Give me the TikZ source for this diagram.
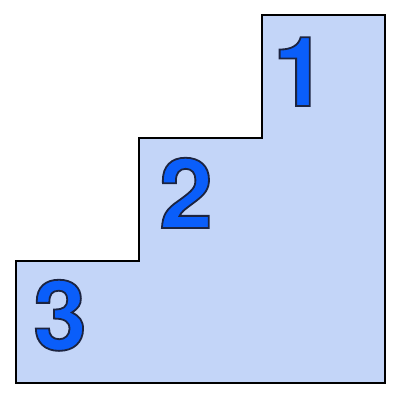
\documentclass[tikz,border=0pt]{standalone}
\usepackage{fontspec}
\setmainfont{TeX Gyre Heros}
\usetikzlibrary{positioning}
\definecolor{stepfill}{HTML}{C3D5F8}
\definecolor{digitblue}{HTML}{0A5EFA}
% outlined digit: fill + stroke render mode
\newcommand{\rank}[1]{\textcolor{digitblue}{\special{pdf:literal direct 2 Tr 1.8 w 0.11 0.14 0.25 RG}#1\special{pdf:literal direct 0 Tr}}}

\begin{document}
\begin{tikzpicture}[x=1pt, y=1pt,
  digit/.style={inner sep=0pt, anchor=base, font=\fontsize{97}{97}\bfseries\selectfont}]

\useasboundingbox (0,0) rectangle (401,401);

\draw[fill=stepfill, line width=1.5pt]
  (16,18) -- (385,18) -- (385,386) -- (262,386) -- (262,263)
  -- (139,263) -- (139,140) -- (16,140) -- cycle;

\node[digit] (first) at (300,295) {\rank{1}};
\node[digit] (second) at (186,173) {\rank{2}};
\node[digit] (third) at (60,51) {\rank{3}};

\end{tikzpicture}
\end{document}
